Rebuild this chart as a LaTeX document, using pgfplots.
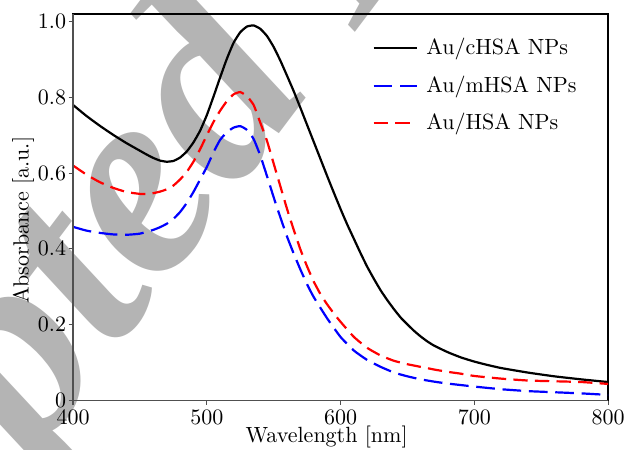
\documentclass[border=0pt]{standalone}
\usepackage{fontspec}
\usepackage{pgfplots}
\pgfplotsset{compat=1.18}
\usepackage{pgfplotstable}
\newfontfamily\wmfont{Liberation Serif}
\definecolor{wm}{RGB}{180,180,180}
\definecolor{spine}{RGB}{80,80,80}

\pgfplotstableread{
x y
400 0.780
410 0.751
420 0.725
430 0.701
440 0.679
450 0.659
455 0.649
460 0.640
465 0.633
470 0.630
475 0.632
480 0.641
485 0.657
490 0.681
495 0.712
500 0.753
505 0.802
510 0.853
515 0.902
520 0.944
525 0.972
530 0.987
535 0.990
540 0.981
545 0.962
550 0.933
555 0.897
560 0.857
565 0.816
570 0.772
575 0.727
580 0.682
585 0.637
590 0.592
595 0.548
600 0.505
605 0.464
610 0.426
615 0.388
620 0.352
625 0.320
630 0.290
635 0.264
640 0.240
645 0.218
650 0.200
655 0.183
660 0.168
665 0.155
670 0.144
680 0.127
690 0.113
700 0.102
710 0.093
720 0.085
740 0.073
760 0.063
780 0.055
800 0.048
}\cHSA

\pgfplotstableread{
x y
400 0.458
410 0.448
420 0.442
430 0.438
440 0.437
450 0.440
460 0.450
465 0.457
470 0.466
475 0.479
480 0.497
485 0.521
490 0.550
495 0.583
500 0.616
505 0.655
510 0.688
515 0.708
520 0.720
525 0.724
530 0.714
535 0.690
540 0.646
545 0.592
550 0.536
555 0.483
560 0.432
565 0.387
570 0.345
575 0.306
580 0.272
590 0.216
600 0.167
610 0.131
620 0.106
630 0.088
640 0.073
650 0.063
660 0.055
670 0.049
680 0.044
690 0.040
700 0.036
720 0.029
740 0.024
760 0.021
780 0.018
800 0.014
}\mHSA

\pgfplotstableread{
x y
400 0.620
410 0.596
420 0.576
430 0.561
440 0.550
450 0.545
455 0.545
460 0.547
465 0.551
470 0.557
475 0.567
480 0.583
485 0.603
490 0.630
495 0.663
500 0.700
505 0.735
510 0.765
515 0.790
520 0.808
525 0.814
530 0.803
535 0.780
540 0.733
545 0.685
550 0.625
555 0.565
560 0.505
565 0.450
570 0.398
575 0.353
580 0.313
585 0.280
590 0.253
595 0.229
600 0.207
610 0.167
620 0.138
630 0.118
640 0.104
650 0.095
660 0.088
670 0.081
680 0.075
690 0.070
700 0.064
720 0.057
740 0.052
760 0.050
780 0.048
800 0.043
}\HSA

\begin{document}
\begin{tikzpicture}
\useasboundingbox (-33.2pt,-22.3pt) rectangle (252.7pt,181.9pt);
% watermark (behind the plot)
\begin{scope}[wm]
\node[rotate=53, anchor=base east, inner sep=0pt, font=\wmfont\fontsize{125}{125}\selectfont\bfseries\itshape] at (39.3pt,49.1pt) {Accept};
\node[rotate=53, anchor=base west, inner sep=0pt, font=\wmfont\fontsize{125}{125}\selectfont\bfseries\itshape] at (39.3pt,49.1pt) {ed Manuscript};
\end{scope}
\begin{axis}[
  at={(0,0)}, anchor=south west,
  scale only axis,
  width=243.2pt, height=175.5pt,
  xmin=400, xmax=800, ymin=0, ymax=1.02,
  xtick={400,500,600,700,800},
  ytick={0,0.2,0.4,0.6,0.8,1.0},
  yticklabels={0,0.2,0.4,0.6,0.8,1.0},
  tick align=outside,
  tick pos=left,
  major tick length=2pt,
  axis line style={line width=0.6pt},
  every tick/.style={spine, line width=0.5pt},
  xticklabel style={inner ysep=2.3pt},
  yticklabel style={inner xsep=1pt},
  xlabel={Wavelength [nm]},
  ylabel={Absorbance [a.u.]},
  xlabel style={at={(axis description cs:0.474,-0.0959)}, anchor=center},
  ylabel style={at={(axis description cs:-0.0935,0.466)}, anchor=center},
  legend style={draw=none, fill=none, at={(axis description cs:0.559,0.950)}, anchor=north west, inner sep=0pt, column sep=2pt, row sep=4.1pt},
  legend cell align=left,
  legend image code/.code={\draw[#1] (0pt,0pt) -- (19.5pt,0pt);},
]
\addplot[black, line width=1pt, smooth, tension=0.3] table[x=x,y=y] {\cHSA};
\addlegendentry{Au/cHSA NPs}
\addplot[blue, line width=1pt, dash pattern=on 8.5pt off 3.5pt, smooth, tension=0.3] table[x=x,y=y] {\mHSA};
\addlegendentry{Au/mHSA NPs}
\addplot[red, line width=1pt, dash pattern=on 6.5pt off 3.3pt, smooth, tension=0.3] table[x=x,y=y] {\HSA};
\addlegendentry{Au/HSA NPs}
\end{axis}
\draw[spine, line width=0.6pt] (0pt,175.5pt) -- (0pt,0pt) -- (243.2pt,0pt);
\end{tikzpicture}
\end{document}
